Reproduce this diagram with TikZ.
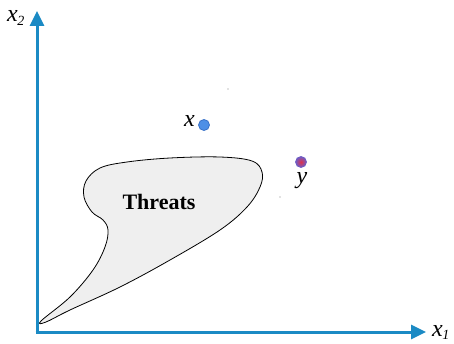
\documentclass[tikz,border=0pt]{standalone}
\usepackage{fontspec}
\setmainfont{Liberation Serif}
\usetikzlibrary{arrows.meta}
\definecolor{axisblue}{HTML}{1B8AC4}
\definecolor{dotblue}{HTML}{4D8FE6}
\definecolor{dotedge}{HTML}{3A72C8}
\definecolor{dotred}{HTML}{E0304C}
\definecolor{dotpurple}{HTML}{6E5CC4}
\definecolor{blobfill}{HTML}{EFEFEF}
\tikzset{
  axis/.style={draw=axisblue, line width=3pt, -{Triangle[length=15pt,width=14pt]}},
  axislabel/.style={font=\fontsize{24}{24}\selectfont\itshape, inner sep=0pt},
  pointdot/.style={circle, minimum size=11pt, inner sep=0pt, line width=0.8pt},
  ptlabel/.style={font=\fontsize{24}{24}\selectfont\itshape, inner sep=0pt},
  region/.style={draw=black, line width=0.8pt, fill=blobfill},
}
\newcommand{\subidx}[1]{\kern-0.5pt\raisebox{-0.35ex}{\fontsize{14}{14}\selectfont\itshape #1}}
\begin{document}
\begin{tikzpicture}[x=1pt,y=-1pt]
  \useasboundingbox (0,0) rectangle (454,344);

  % threat region
  \draw[region] plot[smooth cycle, tension=0.6] coordinates {
    (41,321) (70,297) (93,270) (105,247) (108,230) (103,220) (92,212)
    (84,197) (86,181) (100,168) (127,162) (170,158) (220,157) (252,161)
    (262,172) (260,187) (247,207) (220,230) (170,260) (120,287) (70,310) (46,322)
  };
  \node[font=\fontsize{22}{22}\selectfont\bfseries] (threats) at (159,202) {Threats};

  % axes
  \coordinate (o) at (37,332);
  \coordinate (ytip) at (37,11);
  \coordinate (xtip) at (426,332);
  \draw[axis] ([xshift=-1.5pt]o) -- (xtip);
  \draw[axis] ([yshift=1.5pt]o) -- (ytip);
  \node[axislabel, anchor=base west] (xtwo) at (7,22) {x\subidx{2}};
  \node[axislabel, anchor=base west] (xone) at (432,336) {x\subidx{1}};

  % points
  \node[pointdot, draw=dotedge, fill=dotblue] (px) at (204,125) {};
  \node[ptlabel, anchor=east] (lx) at (195,121) {x};
  \node[pointdot, draw=dotpurple, inner color=dotred, outer color=dotpurple] (py) at (301,162) {};
  \node[ptlabel, anchor=north] (ly) at (302,172) {y};

  % faint specks
  \fill[gray] (228,89) circle (0.6pt);
  \fill[gray] (280,197) circle (0.6pt);
\end{tikzpicture}
\end{document}
